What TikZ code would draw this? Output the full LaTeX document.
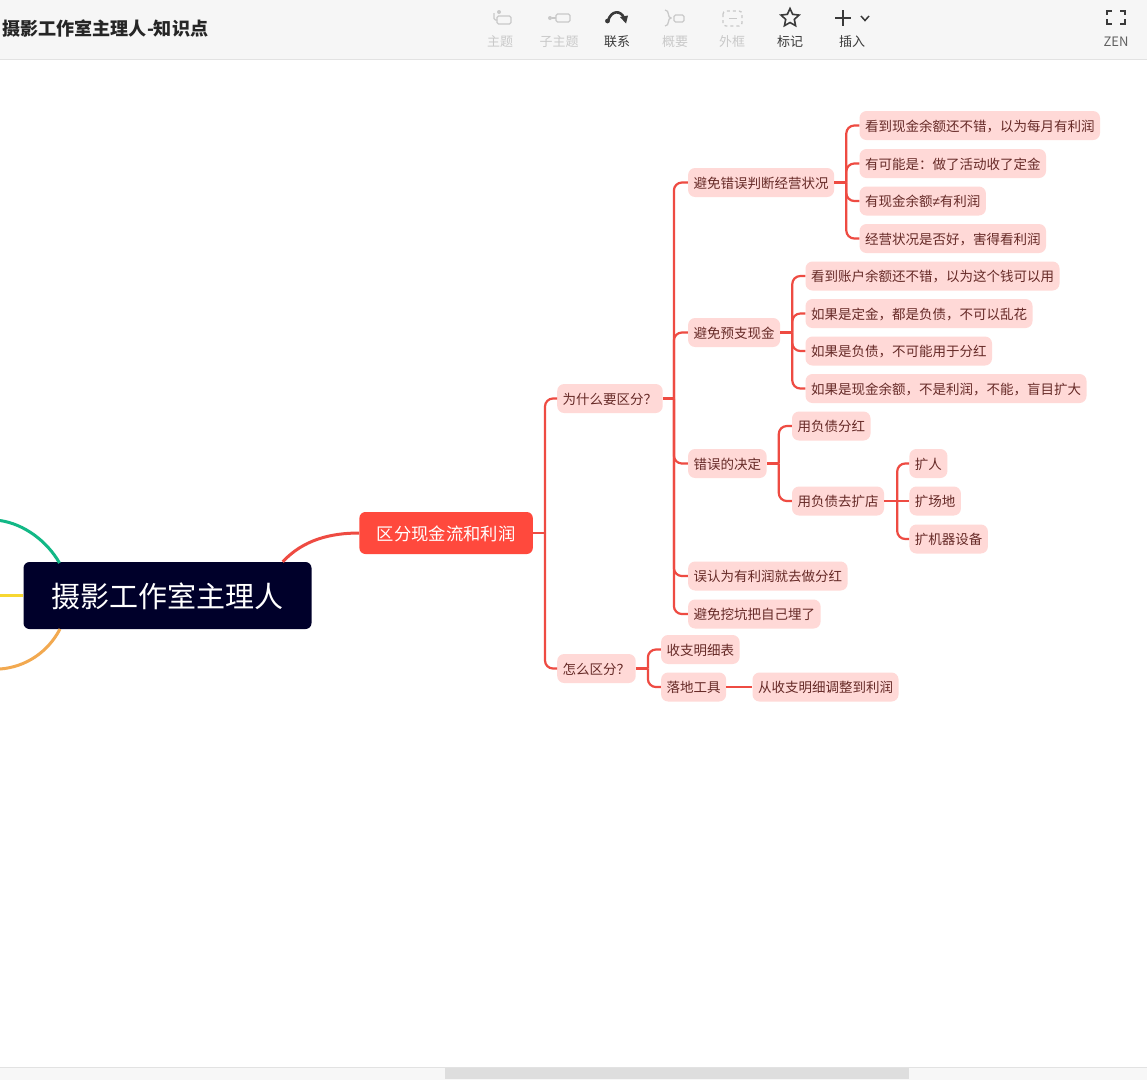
\documentclass[tikz,border=0pt]{standalone}
\usepackage{fontspec}
\setmainfont{Noto Sans CJK SC}
\newfontfamily\symfont{Liberation Sans}
\usetikzlibrary{arrows.meta,positioning,shapes.geometric}
\definecolor{rootfill}{HTML}{00002A}
\definecolor{cashfill}{HTML}{FF493D}
\definecolor{topicfill}{HTML}{FFD9D7}
\definecolor{topicink}{HTML}{662A27}
\definecolor{branchred}{HTML}{EE4B42}
\definecolor{barfill}{HTML}{F6F6F6}
\definecolor{barline}{HTML}{E2E2E2}
\definecolor{offink}{HTML}{C9C9C9}
\definecolor{onink}{HTML}{3A3A3A}
\definecolor{greenarc}{HTML}{12B886}
\definecolor{yellowarc}{HTML}{F7D731}
\definecolor{orangearc}{HTML}{F2A950}

\begin{document}
\begin{tikzpicture}[
  x=1pt, y=-1pt,
  rootbox/.style={fill=rootfill, text=white, rounded corners=6pt, inner xsep=28pt, inner ysep=0pt, minimum height=67pt, text height=24pt, text depth=0pt, font=\fontsize{29}{34}\selectfont},
  cashbox/.style={fill=cashfill, text=white, rounded corners=6pt, inner xsep=17.5pt, inner ysep=0pt, minimum height=42pt, text height=14.5pt, text depth=0pt, font=\fontsize{17.3}{20}\selectfont},
  topicbox/.style={fill=topicfill, text=topicink, rounded corners=7pt, inner xsep=5.5pt, inner ysep=0pt, minimum height=29pt, text height=11.5pt, text depth=0pt, font=\fontsize{13.5}{16}\selectfont},
  branch/.style={draw=branchred, line width=2.2pt, rounded corners=8pt},
  limb/.style={line width=3pt},
  toollabel/.style={font=\fontsize{13}{15}\selectfont, inner sep=0pt},
  offlabel/.style={toollabel, text=offink},
  onlabel/.style={toollabel, text=onink},
  officon/.style={draw=offink, line width=1.3pt},
  onicon/.style={draw=onink, line width=2pt}
]
\useasboundingbox (0,0) rectangle (1147,1080);
\fill[white] (0,0) rectangle (1147,1080);

\fill[barfill] (0,0) rectangle (1147,59);
\draw[barline] (0,59.5) -- (1147,59.5);
\node[anchor=west, inner sep=0pt, text=black!85, font=\fontsize{18.1}{21}\selectfont\bfseries] (title) at (2,28.5) {摄影工作室主理人-知识点};

\node[offlabel] (zhuti) at (500,42) {主题};
\node[offlabel] (zizhuti) at (559,42) {子主题};
\node[onlabel] (lianxi) at (617,42) {联系};
\node[offlabel] (gaiyao) at (675,42) {概要};
\node[offlabel] (waikuang) at (732,42) {外框};
\node[onlabel] (biaoji) at (790,42) {标记};
\node[onlabel] (charu) at (852,42) {插入};
\node[toollabel, text=onink!80] (zen) at (1116,42) {ZEN};

\draw[officon, rounded corners=1.5pt] (497,16) rectangle (511,24);
\draw[officon, rounded corners=1.5pt] (494,13) -- (494,20) -- (497,20);
\fill[offink] (499,12) circle (2pt);
\draw[officon, rounded corners=1.5pt] (556,14) rectangle (570,22);
\draw[officon] (552,18) -- (556,18);
\fill[offink] (550,18) circle (2pt);
\draw[onicon, line width=2.6pt] (608,21) .. controls (611,10) and (621,10) .. (624,18);
\fill[onink] (620,17) -- (628,15.5) -- (626,23.5) -- cycle;
\fill[onink] (607.5,21) circle (2.4pt);
\draw[officon] (665,10) .. controls (670,10) and (667,18) .. (671,18) .. controls (667,18) and (670,26) .. (665,26);
\draw[officon, rounded corners=1.5pt] (674,15) rectangle (684,22);
\draw[officon, dashed, rounded corners=3pt] (723,11) rectangle (742,26);
\draw[officon] (729,18.5) -- (737,18.5);
\node[draw=onink, line width=1.6pt, star, star points=5, star point ratio=2.1, minimum size=19pt, inner sep=0pt] (markstar) at (790,18) {};
\draw[onicon] (835,18) -- (851,18);
\draw[onicon] (843,10) -- (843,26);
\draw[onink, line width=1.5pt] (861,16) -- (865,20.5) -- (869,16);
\draw[onicon] (1107,15) -- (1107,10.5) -- (1112,10.5);
\draw[onicon] (1120,10.5) -- (1125,10.5) -- (1125,15);
\draw[onicon] (1107,19) -- (1107,23.5) -- (1112,23.5);
\draw[onicon] (1120,23.5) -- (1125,23.5) -- (1125,19);

\fill[black!3] (0,1067) rectangle (1147,1080);
\draw[barline] (0,1067) -- (1147,1067);
\fill[black!13] (445,1068) rectangle (909,1079);

\node[rootbox] (root) at (167.5,595.5) {摄影工作室主理人};
\node[cashbox, right=47.5pt of root, yshift=62.5pt] (cash) {区分现金流和利润};

\node[topicbox, right=24pt of cash, yshift=134.5pt] (why) {为什么要区分？};
\node[topicbox, right=24pt of cash, yshift=-135.5pt] (how) {怎么区分？};

\node[topicbox, right=25pt of why, yshift=216pt] (misjudge) {避免错误判断经营状况};
\node[topicbox, right=25pt of why, yshift=66pt] (overdraw) {避免预支现金};
\node[topicbox, right=25pt of why, yshift=-65pt] (wrongcall) {错误的决定};
\node[topicbox, right=25pt of why, yshift=-177.5pt] (dividend) {误认为有利润就去做分红};
\node[topicbox, right=25pt of why, yshift=-215.5pt] (pitfall) {避免挖坑把自己埋了};

\node[topicbox, right=25pt of misjudge, yshift=57pt] (judgeone) {看到现金余额还不错，以为每月有利润};
\node[topicbox, right=25pt of misjudge, yshift=19pt] (judgetwo) {有可能是：做了活动收了定金};
\node[topicbox, right=25pt of misjudge, yshift=-18.5pt] (judgethree) {有现金余额{\symfont ≠}有利润};
\node[topicbox, right=25pt of misjudge, yshift=-56pt] (judgefour) {经营状况是否好，害得看利润};

\node[topicbox, right=25pt of overdraw, yshift=56.5pt] (drawone) {看到账户余额还不错，以为这个钱可以用};
\node[topicbox, right=25pt of overdraw, yshift=19pt] (drawtwo) {如果是定金，都是负债，不可以乱花};
\node[topicbox, right=25pt of overdraw, yshift=-18.5pt] (drawthree) {如果是负债，不可能用于分红};
\node[topicbox, right=25pt of overdraw, yshift=-56pt] (drawfour) {如果是现金余额，不是利润，不能，盲目扩大};

\node[topicbox, right=25pt of wrongcall, yshift=37.5pt] (debtpay) {用负债分红};
\node[topicbox, right=25pt of wrongcall, yshift=-37.5pt] (debtshop) {用负债去扩店};
\node[topicbox, right=25pt of debtshop, yshift=37.5pt] (morestaff) {扩人};
\node[topicbox, right=25pt of debtshop] (morespace) {扩场地};
\node[topicbox, right=25pt of debtshop, yshift=-38pt] (moregear) {扩机器设备};

\node[topicbox, right=25pt of how, yshift=19pt] (ledger) {收支明细表};
\node[topicbox, right=25pt of how, yshift=-18.5pt] (tool) {落地工具};
\node[topicbox, right=26pt of tool] (adjust) {从收支明细调整到利润};

\coordinate (greenend) at (0,520.5);
\coordinate (yellowend) at (0,595.5);
\coordinate (orangeend) at (0,669);
\draw[limb, draw=greenarc] (greenend) .. controls (24,524) and (47,541) .. (59.5,563);
\draw[limb, draw=yellowarc] (yellowend) -- (root.west);
\draw[limb, draw=orangearc] (orangeend) .. controls (26,667) and (48,652) .. (60,629);
\draw[branch, limb] (root.north east) ++(-29pt,0) .. controls (303,540) and (330,533) .. (cash.west);

\draw[branch] (cash.east) -- ++(12pt,0) coordinate (cashhub);
\draw[branch] (cashhub) |- (why.west);
\draw[branch] (cashhub) |- (how.west);

\draw[branch] (why.east) -- ++(11pt,0) coordinate (whyhub);
\draw[branch] (whyhub) |- (misjudge.west);
\draw[branch] (whyhub) |- (overdraw.west);
\draw[branch] (whyhub) |- (wrongcall.west);
\draw[branch] (whyhub) |- (dividend.west);
\draw[branch] (whyhub) |- (pitfall.west);

\draw[branch] (misjudge.east) -- ++(12pt,0) coordinate (judgehub);
\draw[branch] (judgehub) |- (judgeone.west);
\draw[branch] (judgehub) |- (judgetwo.west);
\draw[branch] (judgehub) |- (judgethree.west);
\draw[branch] (judgehub) |- (judgefour.west);

\draw[branch] (overdraw.east) -- ++(12pt,0) coordinate (drawhub);
\draw[branch] (drawhub) |- (drawone.west);
\draw[branch] (drawhub) |- (drawtwo.west);
\draw[branch] (drawhub) |- (drawthree.west);
\draw[branch] (drawhub) |- (drawfour.west);

\draw[branch] (wrongcall.east) -- ++(12pt,0) coordinate (wronghub);
\draw[branch] (wronghub) |- (debtpay.west);
\draw[branch] (wronghub) |- (debtshop.west);

\draw[branch] (debtshop.east) -- ++(13pt,0) coordinate (shophub);
\draw[branch] (shophub) |- (morestaff.west);
\draw[branch] (shophub) -- (morespace.west);
\draw[branch] (shophub) |- (moregear.west);

\draw[branch] (how.east) -- ++(12pt,0) coordinate (howhub);
\draw[branch] (howhub) |- (ledger.west);
\draw[branch] (howhub) |- (tool.west);
\draw[branch] (tool.east) -- (adjust.west);

\end{tikzpicture}
\end{document}
